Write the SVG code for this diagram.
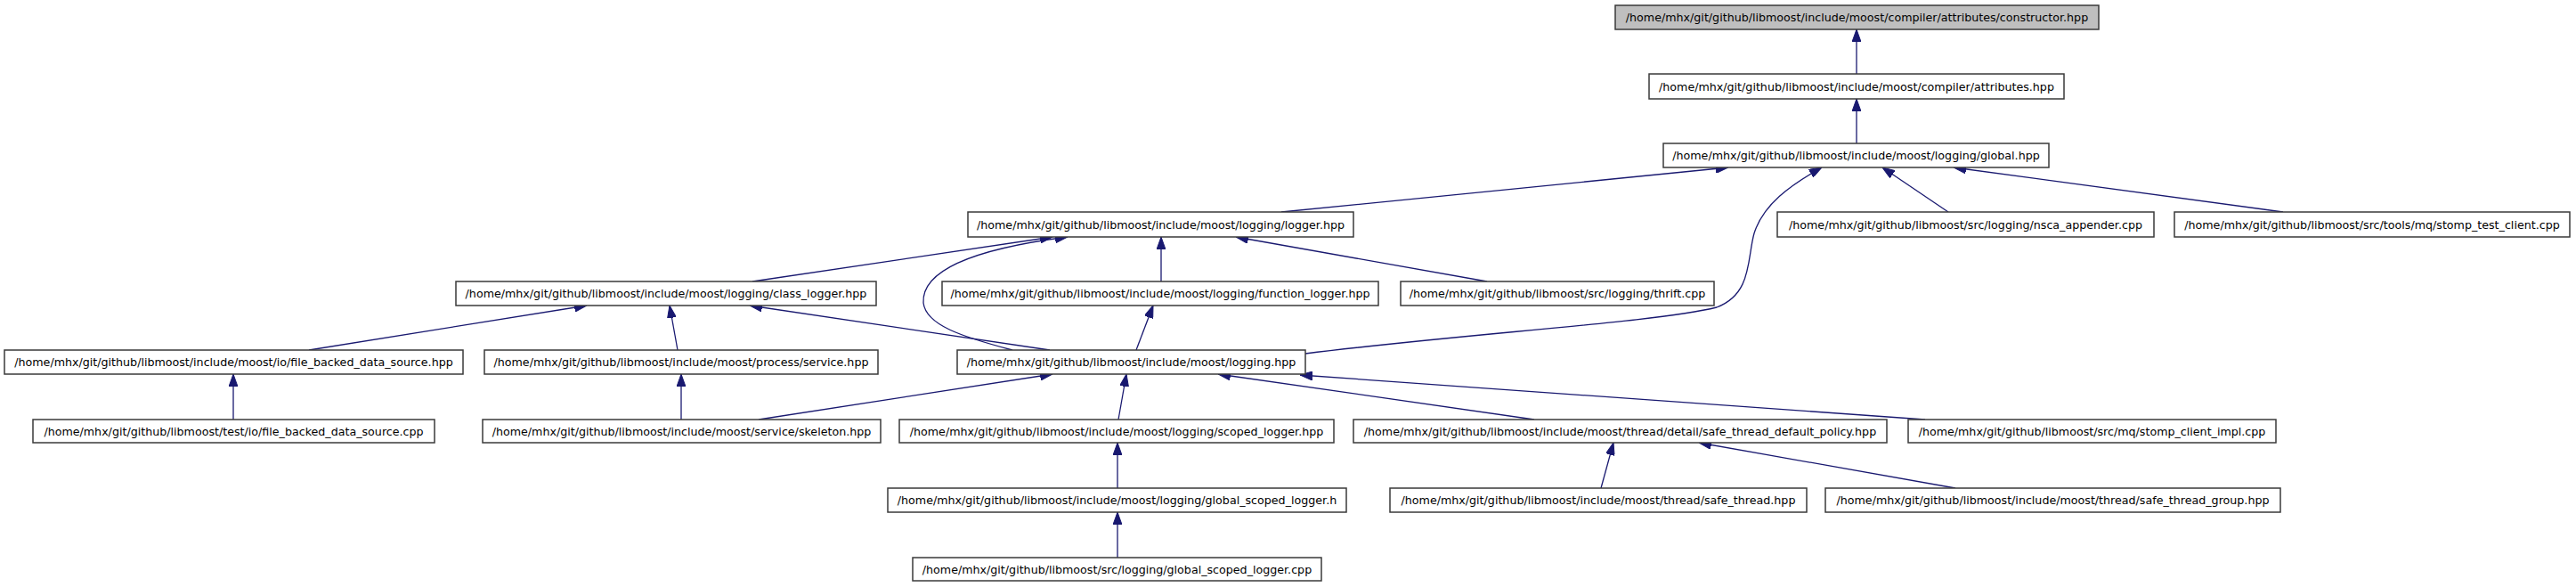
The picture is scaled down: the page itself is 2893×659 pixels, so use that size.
<svg xmlns="http://www.w3.org/2000/svg" width="2893" height="659" viewBox="0 0 2893 659">
<style>
.n rect{fill:#ffffff;stroke:#3a3a3a;stroke-width:1.5}
.n.root rect{fill:#bfbfbf}
.n text{font-family:"DejaVu Sans",sans-serif;font-size:12.66px;fill:#000;text-anchor:middle}
.e path{fill:none;stroke:#191970;stroke-width:1.3;marker-end:url(#ah)}
</style>
<defs>
<marker id="ah" viewBox="0 0 14 10" refX="14" refY="5" markerWidth="14" markerHeight="10" markerUnits="userSpaceOnUse" orient="auto">
<path d="M0,0 L14,5 L0,10 z" fill="#191970" stroke="#191970" stroke-width="1"/>
</marker>
</defs>
<rect width="2893" height="659" fill="#ffffff"/>
<g id="edges" class="e">
<path d="M2085,83 L2085,33"/>
<path d="M2085,162 L2085,111"/>
<path d="M1439,238 L1941,188"/>
<path d="M1466,397 C1650,374 1860,362 1928,345 C1968,330 1962,290 1970,262 C1980,230 2010,208 2046,188"/>
<path d="M2188,238 L2114,188"/>
<path d="M2564,238 L2194,188"/>
<path d="M845,316 L1182,266"/>
<path d="M1137,393 C1080,378 1040,365 1037,340 C1035,305 1090,280 1199,266"/>
<path d="M1304,316 L1304,266"/>
<path d="M1670,316 L1388,266"/>
<path d="M347,393 L659,343"/>
<path d="M761,393 L752,343"/>
<path d="M1179,393 L842,343"/>
<path d="M1276,393 L1295,343"/>
<path d="M262,471 L262,420"/>
<path d="M765,471 L765,420"/>
<path d="M852,471 L1182,420"/>
<path d="M1256,471 L1265,420"/>
<path d="M1723,471 L1368,420"/>
<path d="M2162,471 L1460,421"/>
<path d="M1255,548 L1255,497"/>
<path d="M1255,626 L1255,575"/>
<path d="M1798,548 L1812,497"/>
<path d="M2196,548 L1908,497"/>
</g>
<g id="n_constructor" class="n root"><rect x="1814" y="6" width="543" height="27"/><text x="2085.5" y="24">/home/mhx/git/github/libmoost/include/moost/compiler/attributes/constructor.hpp</text></g>
<g id="n_attributes" class="n"><rect x="1852" y="83" width="466" height="28"/><text x="2085" y="102">/home/mhx/git/github/libmoost/include/moost/compiler/attributes.hpp</text></g>
<g id="n_global" class="n"><rect x="1868" y="161" width="433" height="27"/><text x="2084.5" y="179">/home/mhx/git/github/libmoost/include/moost/logging/global.hpp</text></g>
<g id="n_logger" class="n"><rect x="1087" y="238" width="433" height="28"/><text x="1303.5" y="257">/home/mhx/git/github/libmoost/include/moost/logging/logger.hpp</text></g>
<g id="n_nsca" class="n"><rect x="1996" y="238" width="423" height="28"/><text x="2207.5" y="257">/home/mhx/git/github/libmoost/src/logging/nsca_appender.cpp</text></g>
<g id="n_stomp_test" class="n"><rect x="2442" y="238" width="444" height="28"/><text x="2664" y="257">/home/mhx/git/github/libmoost/src/tools/mq/stomp_test_client.cpp</text></g>
<g id="n_class_logger" class="n"><rect x="512" y="316" width="472" height="27"/><text x="748" y="334">/home/mhx/git/github/libmoost/include/moost/logging/class_logger.hpp</text></g>
<g id="n_function_logger" class="n"><rect x="1058" y="316" width="490" height="27"/><text x="1303" y="334">/home/mhx/git/github/libmoost/include/moost/logging/function_logger.hpp</text></g>
<g id="n_thrift" class="n"><rect x="1573" y="316" width="352" height="27"/><text x="1749" y="334">/home/mhx/git/github/libmoost/src/logging/thrift.cpp</text></g>
<g id="n_fbds_hpp" class="n"><rect x="5" y="393" width="515" height="27"/><text x="262.5" y="411">/home/mhx/git/github/libmoost/include/moost/io/file_backed_data_source.hpp</text></g>
<g id="n_service" class="n"><rect x="544" y="393" width="442" height="27"/><text x="765" y="411">/home/mhx/git/github/libmoost/include/moost/process/service.hpp</text></g>
<g id="n_logging" class="n"><rect x="1075" y="393" width="391" height="27"/><text x="1270.5" y="411">/home/mhx/git/github/libmoost/include/moost/logging.hpp</text></g>
<g id="n_fbds_cpp" class="n"><rect x="37" y="471" width="451" height="26"/><text x="262.5" y="489">/home/mhx/git/github/libmoost/test/io/file_backed_data_source.cpp</text></g>
<g id="n_skeleton" class="n"><rect x="542" y="471" width="447" height="26"/><text x="765.5" y="489">/home/mhx/git/github/libmoost/include/moost/service/skeleton.hpp</text></g>
<g id="n_scoped_logger" class="n"><rect x="1010" y="471" width="488" height="26"/><text x="1254" y="489">/home/mhx/git/github/libmoost/include/moost/logging/scoped_logger.hpp</text></g>
<g id="n_safe_default" class="n"><rect x="1520" y="471" width="599" height="26"/><text x="1819.5" y="489">/home/mhx/git/github/libmoost/include/moost/thread/detail/safe_thread_default_policy.hpp</text></g>
<g id="n_stomp_client_impl" class="n"><rect x="2143" y="471" width="413" height="26"/><text x="2349.5" y="489">/home/mhx/git/github/libmoost/src/mq/stomp_client_impl.cpp</text></g>
<g id="n_gsl_h" class="n"><rect x="997" y="548" width="515" height="27"/><text x="1254.5" y="566">/home/mhx/git/github/libmoost/include/moost/logging/global_scoped_logger.h</text></g>
<g id="n_safe_thread" class="n"><rect x="1561" y="548" width="468" height="27"/><text x="1795" y="566">/home/mhx/git/github/libmoost/include/moost/thread/safe_thread.hpp</text></g>
<g id="n_safe_thread_group" class="n"><rect x="2050" y="548" width="511" height="27"/><text x="2305.5" y="566">/home/mhx/git/github/libmoost/include/moost/thread/safe_thread_group.hpp</text></g>
<g id="n_gsl_cpp" class="n"><rect x="1025" y="626" width="459" height="26"/><text x="1254.5" y="644">/home/mhx/git/github/libmoost/src/logging/global_scoped_logger.cpp</text></g>
</svg>
